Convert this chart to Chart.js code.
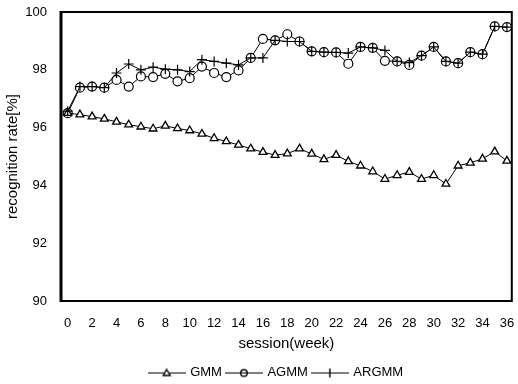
<!DOCTYPE html>
<html>
<head>
<meta charset="utf-8">
<script src="https://cdn.jsdelivr.net/npm/chart.js@4.4.0/dist/chart.umd.min.js"></script>
<style>
  html, body { margin: 0; padding: 0; background: #fff; }
  #wrap { width: 518px; height: 384px; }
</style>
</head>
<body>
<div id="wrap"><canvas id="chart"></canvas></div>
<script>
// session weeks
const weeks = [0, 1, 2, 3, 4, 5, 6, 7, 8, 9, 10, 11, 12, 13, 14, 15, 16, 17, 18,
               19, 20, 21, 22, 23, 24, 25, 26, 27, 28, 29, 30, 31, 32, 33, 34, 35, 36];

// recognition rate [%]
const gmm = [96.50, 96.45, 96.38, 96.30, 96.20, 96.10, 96.03, 95.96, 96.06, 95.97,
             95.90, 95.78, 95.63, 95.52, 95.40, 95.27, 95.15, 95.05, 95.10, 95.27,
             95.09, 94.90, 95.05, 94.83, 94.68, 94.48, 94.22, 94.35, 94.46, 94.22,
             94.35, 94.05, 94.68, 94.78, 94.92, 95.17, 94.85];
const agmm = [96.50, 97.38, 97.42, 97.38, 97.65, 97.42, 97.77, 97.75, 97.86, 97.60,
              97.71, 98.11, 97.89, 97.75, 97.98, 98.41, 99.07, 99.02, 99.23, 98.98,
              98.64, 98.61, 98.60, 98.21, 98.79, 98.76, 98.31, 98.29, 98.17, 98.49,
              98.79, 98.29, 98.23, 98.61, 98.54, 99.50, 99.48];
const argmm = [96.57, 97.42, 97.42, 97.38, 97.89, 98.20, 98.00, 98.09, 98.02, 98.00,
               97.94, 98.35, 98.29, 98.23, 98.17, 98.41, 98.41, 99.02, 98.98, 98.98,
               98.64, 98.61, 98.60, 98.58, 98.79, 98.76, 98.67, 98.29, 98.25, 98.49,
               98.79, 98.29, 98.23, 98.61, 98.54, 99.50, 99.48];

const xTicks = [0, 2, 4, 6, 8, 10, 12, 14, 16, 18, 20, 22, 24, 26, 28, 30, 32, 34, 36];
const yTicks = [90, 92, 94, 96, 98, 100];

Chart.defaults.font.family = "'Liberation Sans', Arial, sans-serif";
Chart.defaults.font.size = 13;
Chart.defaults.color = "#000";

// small "line + marker" pictures for the legend
function legendIcon(kind) {
    const c = document.createElement("canvas");
    c.width = 38; c.height = 12;
    const ctx = c.getContext("2d");
    ctx.strokeStyle = "#000";
    ctx.fillStyle = "#fff";
    ctx.lineWidth = 1;
    ctx.beginPath();
    ctx.moveTo(0, 6.5); ctx.lineTo(38, 6.5);
    ctx.stroke();
    ctx.beginPath();
    ctx.lineWidth = 1.4;
    if (kind == "triangle") {
        ctx.moveTo(19, 3); ctx.lineTo(22.5, 9); ctx.lineTo(15.5, 9); ctx.closePath();
        ctx.fill(); ctx.stroke();
    } else if (kind == "circle") {
        ctx.arc(19, 6.5, 3.3, 0, Math.PI*2);
        ctx.stroke();
    } else {
        ctx.moveTo(19, 2); ctx.lineTo(19, 11);
        ctx.stroke();
    }
    return c;
}
const icons = [legendIcon("triangle"), legendIcon("circle"), legendIcon("cross")];

function toPoints(vals) {
    return vals.map((v, i) => ({x: weeks[i], y: v}));
}

// box round the plot area, legend nudged a bit left like the original
const frame = {
    id: "frame",
    afterLayout(chart) {
        chart.legend.left -= 10;
        chart.legend.right -= 10;
    },
    beforeDatasetsDraw(chart) {
        const a = chart.chartArea, ctx = chart.ctx;
        ctx.save();
        ctx.strokeStyle = "#000";
        ctx.lineWidth = 2;
        ctx.strokeRect(a.left, a.top, a.right - a.left, a.bottom - a.top);
        ctx.lineWidth = 3;
        ctx.beginPath();
        ctx.moveTo(a.left, a.top - 1); ctx.lineTo(a.left, a.bottom + 1);
        ctx.stroke();
        ctx.restore();
    }
};

new Chart("chart", {
    type: "line",
    data: {
        datasets: [{
            label: "GMM",
            data: toPoints(gmm),
            borderColor: "#000",
            borderWidth: 1,
            pointStyle: "triangle",
            pointRadius: 4.5,
            pointBorderWidth: 1.3,
            pointBackgroundColor: "#fff",
            pointBorderColor: "#000"
        },{
            label: "AGMM",
            data: toPoints(agmm),
            borderColor: "#000",
            borderWidth: 1,
            pointStyle: "circle",
            pointRadius: 4.5,
            pointBorderWidth: 1.2,
            pointBackgroundColor: "#fff",
            pointBorderColor: "#000"
        },{
            label: "ARGMM",
            data: toPoints(argmm),
            borderColor: "#000",
            borderWidth: 1,
            pointStyle: "cross",
            pointRadius: 5,
            pointBorderWidth: 1.2,
            pointBorderColor: "#000",
            order: -1
        }]
    },
    plugins: [frame],
    options: {
        responsive: true,
        maintainAspectRatio: false,
        animation: false,
        layout: { padding: { left: 0, right: 3, top: 12, bottom: -5 } },
        elements: { line: { tension: 0 } },
        plugins: {
            tooltip: { enabled: false },
            legend: {
                position: "bottom",
                fullSize: false,
                labels: {
                    usePointStyle: true,
                    pointStyleWidth: 34,
                    padding: 5,
                    sort: (a, b) => a.datasetIndex - b.datasetIndex,
                    generateLabels: function(chart) {
                        const items = Chart.defaults.plugins.legend.labels.generateLabels(chart);
                        items.forEach(it => { it.pointStyle = icons[it.datasetIndex]; });
                        return items;
                    }
                }
            }
        },
        scales: {
            x: {
                type: "linear",
                min: -0.55,
                max: 36.4,
                afterBuildTicks: axis => { axis.ticks = xTicks.map(v => ({value: v})); },
                afterFit: axis => { axis.height = 60; axis.paddingLeft = 0; axis.paddingRight = 0; },
                grid: { display: false, drawTicks: false },
                border: { display: false },
                ticks: { padding: 15, maxRotation: 0, autoSkip: false },
                title: {
                    display: true,
                    text: "session(week)",
                    font: { size: 15 },
                    padding: { top: 0, bottom: 8 }
                }
            },
            y: {
                min: 90,
                max: 100,
                afterBuildTicks: axis => { axis.ticks = yTicks.map(v => ({value: v})); },
                afterFit: axis => { axis.width = 61; axis.paddingTop = 0; axis.paddingBottom = 0; },
                grid: { display: false, drawTicks: false },
                border: { display: false },
                ticks: { padding: 14 },
                title: {
                    display: true,
                    text: "recognition rate[%]",
                    font: { size: 15 },
                    padding: { top: 4, bottom: 0 }
                }
            }
        }
    }
});
</script>
</body>
</html>
